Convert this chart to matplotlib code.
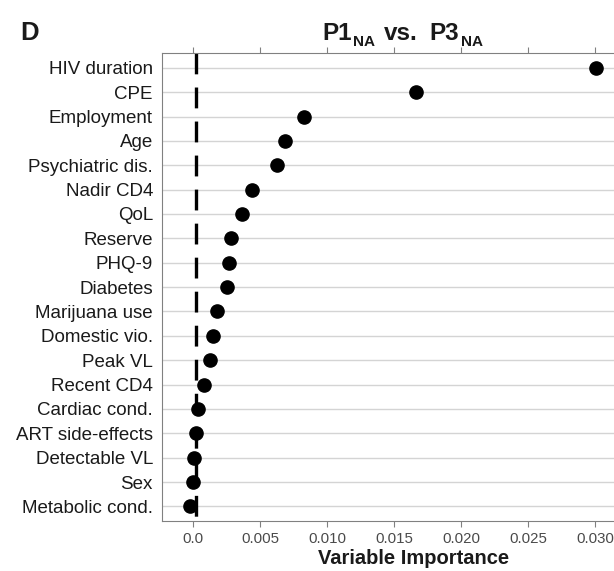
#!/usr/bin/env python3
# -*- coding: utf-8 -*-

import matplotlib
matplotlib.use('Agg')
import matplotlib.pyplot as plt

# dane
variables = ['HIV duration', 'CPE', 'Employment', 'Age', 'Psychiatric dis.',
             'Nadir CD4', 'QoL', 'Reserve', 'PHQ-9', 'Diabetes',
             'Marijuana use', 'Domestic vio.', 'Peak VL', 'Recent CD4',
             'Cardiac cond.', 'ART side-effects', 'Detectable VL', 'Sex',
             'Metabolic cond.']
importance = [0.0301, 0.0166, 0.0083, 0.00685, 0.00623,
              0.00441, 0.00362, 0.00282, 0.00267, 0.00252,
              0.00177, 0.00147, 0.00122, 0.00078,
              0.00033, 0.00020, 0.00007, -0.00005,
              -0.00025]
cutoff = 0.00022
x_ticks = [0.0, 0.005, 0.010, 0.015, 0.020, 0.025, 0.030]
x_tick_labels = ['0.0', '0.005', '0.010', '0.015', '0.020', '0.025', '0.030']


def main():
    plt.rcParams['font.family'] = ['Liberation Sans', 'DejaVu Sans']
    plt.rcParams['lines.scale_dashes'] = False

    W, H = 614, 571
    fig = plt.figure(figsize=(W / 100, H / 100), dpi=100)
    ax = fig.add_axes([162 / W, 1 - 521 / H, (W - 162) / W, (521 - 52.7) / H])

    pos = list(range(len(variables)))

    # siatka pozioma
    for p in pos:
        ax.axhline(p, color='#d4d4d4', linewidth=1.0, zorder=1)

    # linia odciecia
    ax.plot([cutoff, cutoff], [-0.62, 18.6], color='black', linewidth=2.4,
            dashes=(15, 9.5), zorder=2)

    # punkty
    ax.plot(importance, pos, 'o', color='black', markersize=9.5,
            linestyle='none', zorder=3)

    # osie
    ax.set_ylim(18.6, -0.62)
    ax.set_xlim(-0.00234, 0.03142)
    ax.set_yticks(pos, labels=variables)
    ax.set_xticks(x_ticks, labels=x_tick_labels)
    ax.tick_params(axis='y', length=0, pad=6.5, labelsize=13.5,
                   labelcolor='#1a1a1a')
    ax.tick_params(axis='x', top=True, labeltop=False, direction='out',
                   length=4.5, width=0.8, color='#808080', pad=3.5,
                   labelsize=10.8, labelcolor='#4a4a4a')

    for side in ['left', 'top', 'bottom']:
        ax.spines[side].set_color('#808080')
        ax.spines[side].set_linewidth(0.8)
    ax.spines['right'].set_visible(False)

    ax.set_xlabel('Variable Importance', fontsize=14.5, fontweight='bold',
                  color='#1a1a1a', va='top')
    ax.xaxis.set_label_coords((414 - 162) / (W - 162), (521 - 549) / (521 - 52.7))

    # tytul z indeksami dolnymi, skladany kawalek po kawalku
    r = fig.canvas.get_renderer()

    def put(s, x, y, size):
        t = fig.text(x / W, 1 - y / H, s, fontsize=size, fontweight='bold',
                     ha='left', va='baseline', color='#1a1a1a')
        return t.get_window_extent(renderer=r).x1

    put('D', 20, 40, 18.5)
    big, small = 17.5, 11
    x = put('P1', 322, 39.5, big)
    x = put('NA', x + 1, 46.5, small)
    x = put('vs.', x + 9, 39.5, big)
    x = put('P3', x + 12, 39.5, big)
    put('NA', x + 2, 46.5, small)

    fig.savefig('out.png', dpi=100)


if __name__ == '__main__':
    main()
